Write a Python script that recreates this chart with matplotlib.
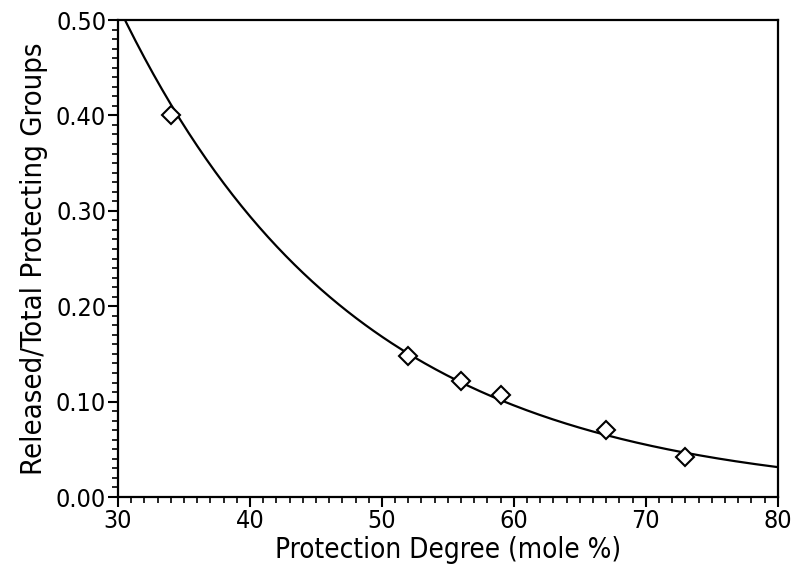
import numpy as np
import matplotlib
matplotlib.use("Agg")
import matplotlib.pyplot as plt
from matplotlib.ticker import MultipleLocator, FormatStrFormatter

degree = [34, 52, 56, 59, 67, 73]
released = [0.400, 0.148, 0.122, 0.107, 0.070, 0.042]

# exponential fit through the points (the solid curve)
slope, icpt = np.polyfit(degree, np.log(released), 1)
xfit = np.linspace(30, 80, 300)
yfit = np.exp(icpt + slope * xfit)

plt.rcParams['font.family'] = ['DejaVu Sans']
plt.rcParams['font.stretch'] = 'condensed'

fig = plt.figure(figsize=(7.93, 5.72), dpi=100)
ax = fig.add_axes([0.1488, 0.1311, 0.832, 0.8339])

ax.plot(xfit, yfit, color='black', lw=1.6)
ax.plot(degree, released, linestyle='none', marker='D', ms=9,
        mfc='white', mec='black', mew=1.5)

ax.set_xlim(30, 80)
ax.set_ylim(0, 0.5)
ax.xaxis.set_major_locator(MultipleLocator(10))
ax.xaxis.set_minor_locator(MultipleLocator(1))
ax.yaxis.set_major_locator(MultipleLocator(0.1))
ax.yaxis.set_minor_locator(MultipleLocator(0.01))
ax.yaxis.set_major_formatter(FormatStrFormatter('%.2f'))

ax.tick_params(which='major', direction='out', length=7, width=1.5,
               labelsize=18, pad=1.5)
ax.tick_params(which='minor', direction='out', length=4.5, width=1.2)
for s in ax.spines.values():
    s.set_linewidth(1.6)

ax.set_xlabel('Protection Degree (mole %)', fontsize=20, labelpad=2)
ax.set_ylabel('Released/Total Protecting Groups', fontsize=21, labelpad=6)

fig.savefig('out.png', dpi=100)
